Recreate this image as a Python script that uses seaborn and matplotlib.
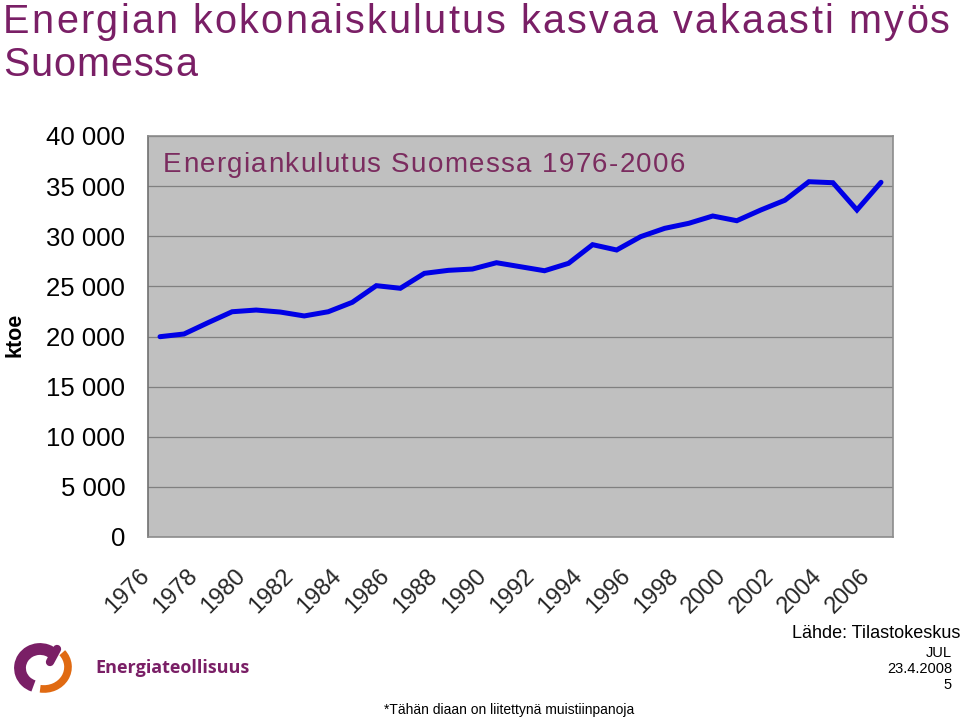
import matplotlib
matplotlib.use("Agg")
import matplotlib.pyplot as plt
import matplotlib.transforms as mtransforms
from matplotlib.patches import Arc
from matplotlib.ticker import FuncFormatter, FixedLocator
import seaborn as sns
import pandas as pd

# ---- data ----
years = list(range(1976, 2007))
consumption = [19980, 20250, 21380, 22470, 22640, 22440, 22050, 22470, 23410, 25070,
               24810, 26300, 26600, 26730, 27360, 26960, 26560, 27300, 29160, 28630,
               29960, 30790, 31290, 32020, 31550, 32620, 33590, 35440, 35340, 32620, 35380]
y_ticks = [0, 5000, 10000, 15000, 20000, 25000, 30000, 35000, 40000]
label_years = list(range(1976, 2007, 2))

title_lines = ["Energian kokonaiskulutus kasvaa vakaasti myös", "Suomessa"]
chart_title = "Energiankulutus Suomessa 1976-2006"
y_label = "ktoe"
source = "Lähde: Tilastokeskus"
footer_lines = ["JUL", "23.4.2008", "5"]
note = "*Tähän diaan on liitettynä muistiinpanoja"
brand = "Energiateollisuus"

df = pd.DataFrame({"year": years, "ktoe": consumption})

sns.set_theme(style="white")
plt.rcParams["font.family"] = ["Liberation Sans", "DejaVu Sans"]

PURPLE = "#7a1f66"
W, H = 960, 719
fig = plt.figure(figsize=(9.6, 7.19), dpi=100)
fig.patch.set_facecolor("white")
renderer = fig.canvas.get_renderer()


def tracked_text(x_px, base_px, s, target_w, **kw):
    """Draw text with extra letter spacing so that it spans target_w pixels."""
    def width(t):
        tmp = fig.text(0, 0, t + "|", **kw)
        e = tmp.get_window_extent(renderer).width
        tmp.remove()
        return e
    bar = width("")
    natural = width(s) - bar
    track = (target_w - natural) / max(len(s) - 1, 1)
    for i, ch in enumerate(s):
        xi = x_px + (width(s[:i]) - bar) + i * track
        fig.text(xi / W, 1 - base_px / H, ch, ha="left", va="baseline", **kw)


ax = fig.add_axes([148 / W, 1 - 537 / H, 745 / W, 401 / H])
ax.set_facecolor("#c0c0c0")

sns.lineplot(data=df, x="year", y="ktoe", ax=ax, color="#0000e6", linewidth=3.6,
             solid_joinstyle="miter", zorder=3)

ax.set_xlim(years[0] - 0.5, years[-1] + 0.5)
ax.set_ylim(0, 40000)
ax.set_yticks(y_ticks)
ax.yaxis.set_major_formatter(FuncFormatter(lambda v, p: f"{int(v):,}".replace(",", " ")))
ax.grid(axis="y", color="#808080", linewidth=0.9)
ax.grid(axis="x", visible=False)
ax.set_axisbelow(True)

# x ticks: labels every second year, tick marks at category boundaries
ax.set_xticks(label_years)
ax.set_xticklabels([str(y) for y in label_years], rotation=45, ha="right", va="top",
                   fontsize=17)
ax.xaxis.set_minor_locator(FixedLocator([y - 0.5 for y in years] + [years[-1] + 0.5]))
ax.tick_params(axis="x", which="major", length=0, pad=20)
ax.tick_params(axis="x", which="minor", length=5.8, width=0.9, color="#808080", direction="out")
ax.tick_params(axis="y", which="major", length=5.8, width=0.9, color="#808080",
               direction="out", labelsize=18.5, pad=10.5, labelcolor="black")
offset = mtransforms.ScaledTranslation(-6 / 100, 0, fig.dpi_scale_trans)
for lab in ax.get_xticklabels():
    lab.set_transform(lab.get_transform() + offset)

ax.set_xlabel("")
ax.set_ylabel("")
for side in ["top", "right", "bottom"]:
    ax.spines[side].set_color("#8c8c8c")
    ax.spines[side].set_linewidth(1.2)
ax.spines["left"].set_color("#707070")
ax.spines["left"].set_linewidth(1.2)

# in-plot title
tracked_text(163, 172, chart_title, 522, fontsize=20, color="#7b2c5f")

# ---- page texts ----
tracked_text(3, 33, title_lines[0], 947, fontsize=28.5, color=PURPLE)
tracked_text(3, 76, title_lines[1], 194, fontsize=28.5, color=PURPLE)
fig.text(15 / W, 1 - 335 / H, y_label, rotation=90, fontsize=15.5, fontweight="bold",
         ha="center", va="center", color="black")
fig.text(960 / W, 1 - 633 / H, source, fontsize=13, ha="right", va="center", color="black")
for i, t in enumerate(footer_lines):
    fig.text(952 / W, 1 - (653 + i * 16) / H, t, fontsize=10.5, ha="right", va="center",
             color="black")
fig.text(509 / W, 1 - 710 / H, note, fontsize=10, ha="center", va="center", color="black")

# ---- logo ----
lax = fig.add_axes([0, 0, 1, 1], zorder=5)
lax.set_xlim(0, W)
lax.set_ylim(H, 0)
lax.axis("off")
lax.patch.set_alpha(0)
lax.add_patch(Arc((40, 668), 40, 38, theta1=110, theta2=318, color="#7a1f66", lw=8.5))
lax.add_patch(Arc((44, 667), 48, 44, theta1=322, theta2=100, color="#e06a12", lw=5.5))
lax.plot([57, 50], [649, 662], color="#7a1f66", lw=6, solid_capstyle="round")
lax.text(95, 668, brand, fontsize=13, fontweight="bold", color="#7a1f66",
         family=["Open Sans", "DejaVu Sans"], ha="left", va="center")

fig.savefig("out.png", dpi=100, facecolor="white")
